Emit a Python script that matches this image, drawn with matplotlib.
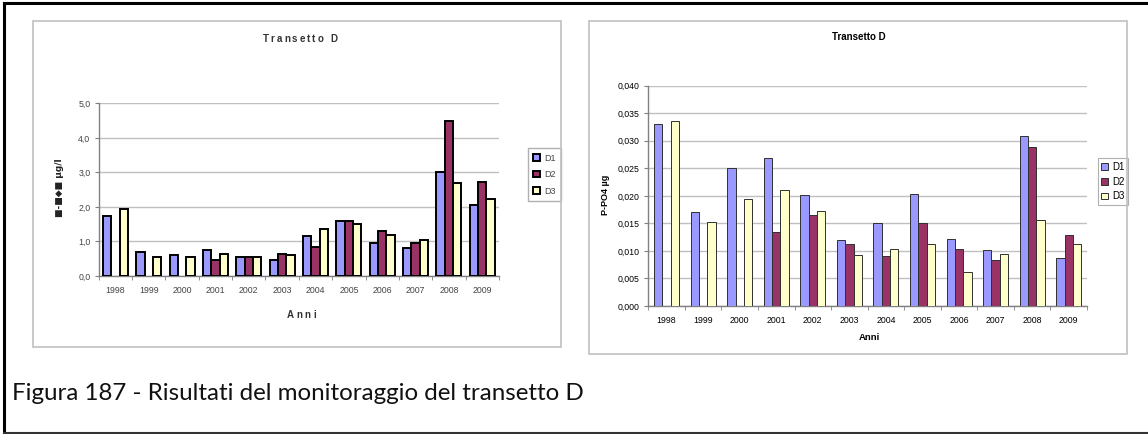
import numpy as np
import matplotlib
matplotlib.use('Agg')
import matplotlib.pyplot as plt
from matplotlib.lines import Line2D
from matplotlib.patches import Rectangle
from matplotlib.ticker import FuncFormatter, FixedLocator

plt.rcParams['font.family'] = ['Liberation Sans', 'DejaVu Sans']

years = ['1998', '1999', '2000', '2001', '2002', '2003',
         '2004', '2005', '2006', '2007', '2008', '2009']
stations = ['D1', 'D2', 'D3']

# N-NO3 (left chart), None = no measurement
no3_d1 = [1.75, 0.70, 0.60, 0.75, 0.55, 0.45, 1.15, 1.60, 0.95, 0.80, 3.00, 2.05]
no3_d2 = [None, None, None, 0.45, 0.55, 0.65, 0.85, 1.60, 1.30, 0.95, 4.50, 2.72]
no3_d3 = [1.95, 0.55, 0.55, 0.65, 0.55, 0.60, 1.35, 1.50, 1.20, 1.05, 2.70, 2.22]

# P-PO4 (right chart)
po4_d1 = [0.0331, 0.0171, 0.0251, 0.0269, 0.0201, 0.0119,
          0.0150, 0.0203, 0.0122, 0.0102, 0.0308, 0.0087]
po4_d2 = [None, None, None, 0.0134, 0.0165, 0.0113,
          0.0090, 0.0150, 0.0103, 0.0084, 0.0289, 0.0129]
po4_d3 = [0.0336, 0.0153, 0.0194, 0.0210, 0.0173, 0.0093,
          0.0104, 0.0113, 0.0061, 0.0094, 0.0156, 0.0112]

no3_ticks = [0.0, 1.0, 2.0, 3.0, 4.0, 5.0]
po4_ticks = [0.000, 0.005, 0.010, 0.015, 0.020, 0.025, 0.030, 0.035, 0.040]

colors = ['#9999FF', '#993366', '#FFFFCC']

W, H = 1148, 434
fig = plt.figure(figsize=(W / 100, H / 100), dpi=100)


def px_box(x0, y0, x1, y1):
    # pixel box (top-left origin) -> figure fraction [l, b, w, h]
    return [x0 / W, 1 - y1 / H, (x1 - x0) / W, (y1 - y0) / H]


def fx(x):
    return x / W


def fy(y):
    return 1 - y / H


# outer frame of the page
fig.add_artist(Line2D([fx(4), fx(W)], [fy(3), fy(3)], color='black', lw=2.2))
fig.add_artist(Line2D([fx(4), fx(4)], [fy(3), fy(433)], color='black', lw=2.2))
fig.add_artist(Line2D([fx(4), fx(W)], [fy(433), fy(433)], color='#333333', lw=1.5))

# chart-area borders
for x0, y0, x1, y1 in [(33, 21, 561, 347), (589, 21, 1127, 354)]:
    fig.add_artist(Rectangle((fx(x0), fy(y1)), fx(x1) - fx(x0), fy(y0) - fy(y1),
                             transform=fig.transFigure, fill=False,
                             edgecolor='#c0c0c0', lw=1.2))


def bar_chart(ax, series, ticks, fmt, width, edge, elw, tick_color):
    x = np.arange(len(years))
    for i, (vals, c) in enumerate(zip(series, colors)):
        v = np.array([np.nan if a is None else a for a in vals], dtype=float)
        ax.bar(x + (i - 1) * width, v, width, color=c,
               edgecolor=edge, linewidth=elw, zorder=3, label=stations[i])
    ax.set_xlim(-0.5, len(years) - 0.5)
    ax.set_ylim(ticks[0], ticks[-1])
    ax.set_yticks(ticks)
    ax.yaxis.set_major_formatter(FuncFormatter(fmt))
    ax.set_xticks(x)
    ax.set_xticklabels(years)
    ax.xaxis.set_minor_locator(FixedLocator(np.arange(-0.5, len(years), 1.0)))
    ax.tick_params(axis='x', which='major', length=0, pad=7,
                   labelsize=6.3, colors=tick_color)
    ax.tick_params(axis='x', which='minor', length=3, color='#808080')
    ax.tick_params(axis='y', length=3, color='#808080', labelsize=6.3,
                   colors=tick_color, pad=3)
    ax.tick_params(axis='y', which='major', color='#808080')
    ax.grid(axis='y', color='#c0c0c0', lw=1.0, zorder=0)
    for s in ['top', 'right']:
        ax.spines[s].set_visible(False)
    for s in ['left', 'bottom']:
        ax.spines[s].set_color('#808080')
        ax.spines[s].set_linewidth(1.0)
    ax.set_facecolor('white')


def spaced_text(xc, yc, s, track, **kw):
    # draw a string with extra letter spacing, centred on xc (pixels)
    r = fig.canvas.get_renderer()
    widths = []
    for ch in s:
        t = fig.text(0, 0, ch, **kw)
        widths.append(t.get_window_extent(r).width if ch != ' ' else 3.0)
        t.remove()
    total = sum(widths) + track * (len(s) - 1)
    x = xc - total / 2
    for ch, w in zip(s, widths):
        if ch != ' ':
            fig.text(fx(x), fy(yc), ch, ha='left', va='center', **kw)
        x += w + track


# left: N-NO3
ax1 = fig.add_axes(px_box(98.7, 103.3, 499, 276))
bar_chart(ax1, [no3_d1, no3_d2, no3_d3], no3_ticks,
          lambda v, p: f'{v:.1f}'.replace('.', ','),
          0.25, 'black', 1.4, '#444444')
spaced_text(300, 39.5, 'Transetto D', 2.0, fontsize=7, fontweight='bold',
            color='#333333')
spaced_text(301, 314.7, 'Anni', 2.5, fontsize=7, fontweight='bold',
            color='#333333')
fig.text(fx(60), fy(188), '■-■◆■ µg/l', ha='center', va='center',
         rotation=90, fontsize=6.5, fontweight='bold',
         family=['DejaVu Sans'], color='#222222')
leg1 = ax1.legend(loc='center', bbox_to_anchor=(fx(544.5), fy(174.7)),
                  bbox_transform=fig.transFigure, fontsize=6.5,
                  handlelength=0.75, handleheight=0.75, handletextpad=0.5,
                  labelspacing=0.85, borderpad=0.6, fancybox=False,
                  edgecolor='#b0b0b0', framealpha=1)
leg1.get_frame().set_linewidth(1.0)
for t in leg1.get_texts():
    t.set_color('#444444')

# right: P-PO4
ax2 = fig.add_axes(px_box(648.3, 85.7, 1087, 306))
bar_chart(ax2, [po4_d1, po4_d2, po4_d3], po4_ticks,
          lambda v, p: f'{v:.3f}'.replace('.', ','),
          0.228, '#303030', 0.7, 'black')
fig.text(fx(859), fy(36.7), 'Transetto D', ha='center', va='center',
         fontsize=7, fontweight='bold')
fig.text(fx(869), fy(337.3), 'Anni', ha='center', va='center',
         fontsize=6.8, fontweight='bold')
fig.text(fx(606), fy(195), 'P-PO4 µg', ha='center', va='center',
         rotation=90, fontsize=6.5, fontweight='bold')
leg2 = ax2.legend(loc='center', bbox_to_anchor=(fx(1113), fy(181.5)),
                  bbox_transform=fig.transFigure, fontsize=7,
                  handlelength=0.7, handleheight=0.7, handletextpad=0.4,
                  labelspacing=0.5, borderpad=0.4, fancybox=False,
                  edgecolor='#b0b0b0', framealpha=1)
leg2.get_frame().set_linewidth(0.8)

# caption
fig.text(fx(12), fy(393), 'Figura 187 - Risultati del monitoraggio del transetto D',
         ha='left', va='center', fontsize=17.4, family=['Lato', 'DejaVu Sans'],
         color='#111111')

fig.savefig('out.png', dpi=100)
